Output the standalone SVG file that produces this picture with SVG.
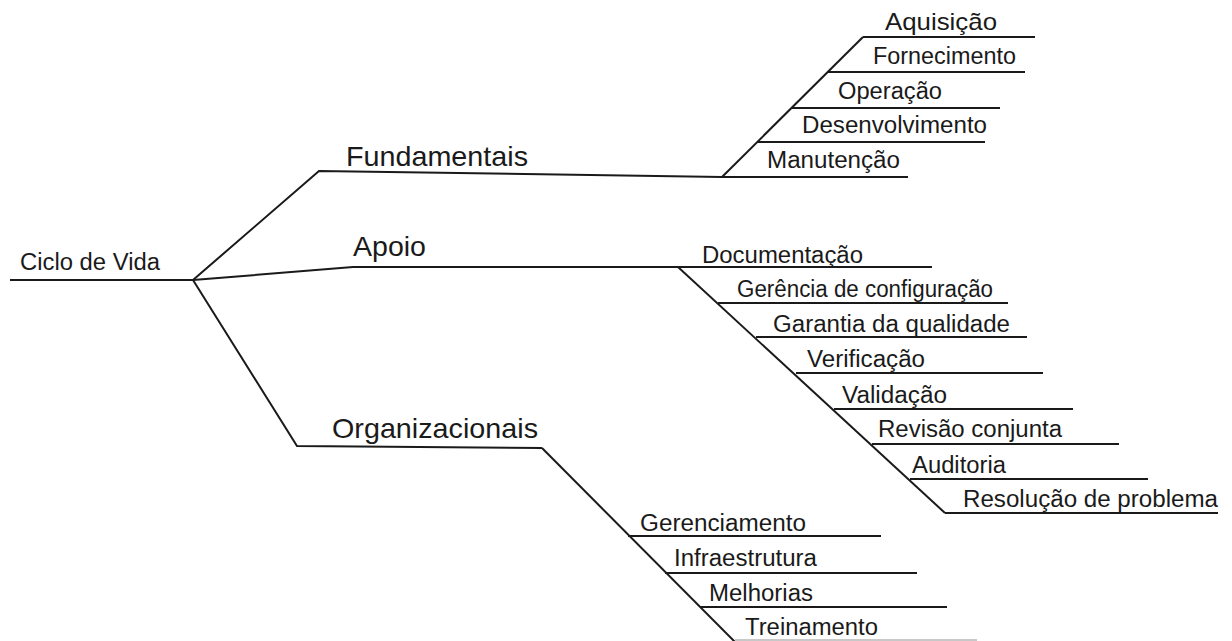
<svg xmlns="http://www.w3.org/2000/svg" width="1232" height="641" viewBox="0 0 1232 641">
<style>
.ln{fill:none;stroke:#1a1a1a;stroke-width:2;stroke-linecap:butt;stroke-linejoin:miter}
.faint{stroke:#c8c8c8}
.t{font-family:"Liberation Sans",Arial,sans-serif;fill:#1a1a1a}
.s{font-size:23px}
.m{font-size:28.5px}
</style>
<rect width="1232" height="641" fill="#ffffff"/>
<g id="connectors">
<polyline class="ln" points="10,280 193,280"/>
<polyline class="ln" points="193,280 319,171 722,177 908,177"/>
<polyline class="ln" points="193,280 353,267 932,267"/>
<polyline class="ln" points="193,280 297,446 542,448"/>
<polyline class="ln" points="722,177 863,37"/>
<polyline class="ln" points="678,267 945,513"/>
<polyline class="ln" points="542,448 735,642"/>
<line class="ln" x1="863" y1="37" x2="1035" y2="37"/>
<line class="ln" x1="828" y1="72" x2="1025" y2="72"/>
<line class="ln" x1="792" y1="108" x2="1000" y2="108"/>
<line class="ln" x1="757" y1="142" x2="985" y2="142"/>
<line class="ln" x1="718" y1="303" x2="1008" y2="303"/>
<line class="ln" x1="756" y1="337" x2="1027" y2="337"/>
<line class="ln" x1="796" y1="373" x2="1043" y2="373"/>
<line class="ln" x1="834" y1="409" x2="1073" y2="409"/>
<line class="ln" x1="872" y1="444" x2="1119" y2="444"/>
<line class="ln" x1="910" y1="479" x2="1148" y2="479"/>
<line class="ln" x1="945" y1="513" x2="1218" y2="513"/>
<line class="ln" x1="628" y1="536" x2="881" y2="536"/>
<line class="ln" x1="665" y1="573" x2="917" y2="573"/>
<line class="ln" x1="700" y1="607" x2="947" y2="607"/>
<line class="ln faint" x1="735" y1="640" x2="977" y2="640"/>
</g>
<g id="root"><text class="t s" x="20" y="270" textLength="140" lengthAdjust="spacingAndGlyphs">Ciclo de Vida</text></g>
<g id="fundamentais"><text class="t m" x="346" y="166" textLength="182" lengthAdjust="spacingAndGlyphs">Fundamentais</text></g>
<g id="apoio"><text class="t m" x="353" y="256" textLength="73" lengthAdjust="spacingAndGlyphs">Apoio</text></g>
<g id="organizacionais"><text class="t m" x="332" y="438" textLength="206" lengthAdjust="spacingAndGlyphs">Organizacionais</text></g>
<g id="aquisicao"><text class="t s" x="885" y="30" textLength="112" lengthAdjust="spacingAndGlyphs" style="font-size:24px">Aquisição</text></g>
<g id="fornecimento"><text class="t s" x="873" y="64" textLength="143" lengthAdjust="spacingAndGlyphs">Fornecimento</text></g>
<g id="operacao"><text class="t s" x="838" y="99" textLength="104" lengthAdjust="spacingAndGlyphs">Operação</text></g>
<g id="desenvolvimento"><text class="t s" x="802" y="133" textLength="185" lengthAdjust="spacingAndGlyphs">Desenvolvimento</text></g>
<g id="manutencao"><text class="t s" x="767" y="168" textLength="133" lengthAdjust="spacingAndGlyphs">Manutenção</text></g>
<g id="documentacao"><text class="t s" x="702" y="263" textLength="161" lengthAdjust="spacingAndGlyphs">Documentação</text></g>
<g id="gerencia-configuracao"><text class="t s" x="737" y="297" textLength="256" lengthAdjust="spacingAndGlyphs">Gerência de configuração</text></g>
<g id="garantia-qualidade"><text class="t s" x="773" y="332" textLength="237" lengthAdjust="spacingAndGlyphs">Garantia da qualidade</text></g>
<g id="verificacao"><text class="t s" x="807" y="367" textLength="118" lengthAdjust="spacingAndGlyphs">Verificação</text></g>
<g id="validacao"><text class="t s" x="842" y="403" textLength="105" lengthAdjust="spacingAndGlyphs">Validação</text></g>
<g id="revisao-conjunta"><text class="t s" x="878" y="437" textLength="184" lengthAdjust="spacingAndGlyphs">Revisão conjunta</text></g>
<g id="auditoria"><text class="t s" x="912" y="473" textLength="94" lengthAdjust="spacingAndGlyphs">Auditoria</text></g>
<g id="resolucao-problema"><text class="t s" x="963" y="507" textLength="255" lengthAdjust="spacingAndGlyphs">Resolução de problema</text></g>
<g id="gerenciamento"><text class="t s" x="640" y="531" textLength="166" lengthAdjust="spacingAndGlyphs">Gerenciamento</text></g>
<g id="infraestrutura"><text class="t s" x="674" y="566" textLength="143" lengthAdjust="spacingAndGlyphs">Infraestrutura</text></g>
<g id="melhorias"><text class="t s" x="709" y="601" textLength="104" lengthAdjust="spacingAndGlyphs">Melhorias</text></g>
<g id="treinamento"><text class="t s" x="745" y="635" textLength="133" lengthAdjust="spacingAndGlyphs">Treinamento</text></g>
</svg>
